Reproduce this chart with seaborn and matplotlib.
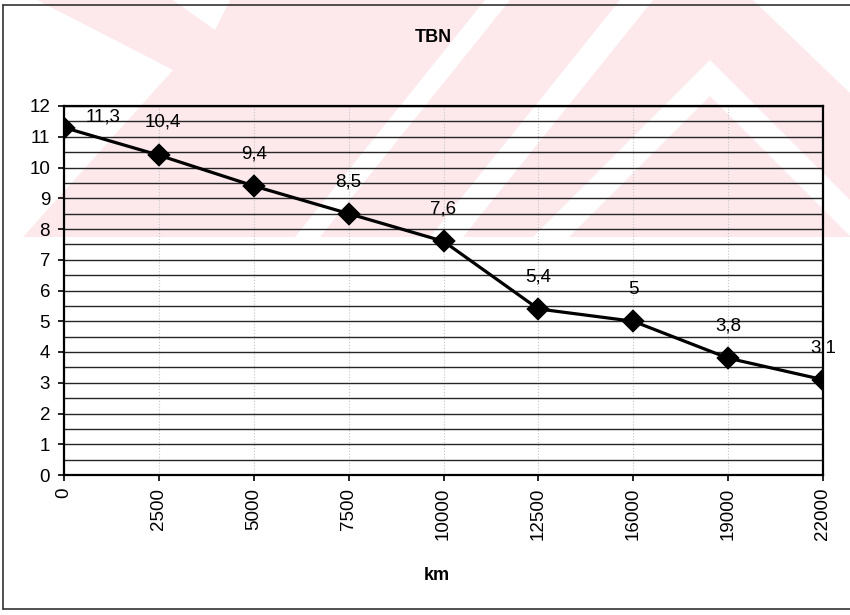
import numpy as np
import pandas as pd
import seaborn as sns
import matplotlib
matplotlib.use("Agg")
import matplotlib.pyplot as plt
from matplotlib.patches import Polygon
from matplotlib.lines import Line2D
from matplotlib.ticker import MultipleLocator

# --- data -----------------------------------------------------------------
km_labels = ["0", "2500", "5000", "7500", "10000", "12500", "16000", "19000", "22000"]
tbn = [11.3, 10.4, 9.4, 8.5, 7.6, 5.4, 5.0, 3.8, 3.1]
value_text = ["11,3", "10,4", "9,4", "8,5", "7,6", "5,4", "5", "3,8", "3,1"]
y_ticks = list(range(0, 13))

df = pd.DataFrame({"km": km_labels, "tbn": tbn})

sns.set_theme(style="white")
plt.rcParams["font.family"] = ["Liberation Sans", "DejaVu Sans"]
plt.rcParams["text.color"] = "black"

W, H = 850, 615
fig = plt.figure(figsize=(W / 100, H / 100), dpi=100)
fig.patch.set_facecolor("white")


def fp(pts):
    """pixel coordinates (origin top-left) -> figure fraction"""
    return [(x / W, 1 - y / H) for x, y in pts]


def patch(pts, color):
    fig.add_artist(Polygon(fp(pts), closed=True, fc=color, ec="none",
                           transform=fig.transFigure, zorder=0))


# pale background emblem in the upper part of the page
pink = "#fde9ec"
patch([(37, 0), (753, 0), (850, 93), (850, 237), (23, 237), (173, 70)], pink)
for c in [
    [(173, 0), (230, 0), (215, 30)],
    [(485, 0), (510, 0), (320, 237), (295, 237)],
    [(620, 0), (653, 0), (463, 237), (430, 237)],
    [(710, 60), (887, 237), (533, 237)],
]:
    patch(c, "white")
patch([(710, 96), (851, 237), (569, 237)], pink)

# chart-area frame
frame_kw = dict(color="#333333", lw=1.2, transform=fig.transFigure, zorder=1)
fig.add_artist(Line2D([3 / W, 1.0], [1 - 5 / H, 1 - 5 / H], **frame_kw))
fig.add_artist(Line2D([3 / W, 3 / W], [1 - 5 / H, 1 - 609 / H], **frame_kw))
fig.add_artist(Line2D([3 / W, 1.0], [1 - 609 / H, 1 - 609 / H], **frame_kw))

# --- plot area ------------------------------------------------------------
left, right, top, bottom = 64, 823, 106, 475
ax = fig.add_axes([left / W, 1 - bottom / H, (right - left) / W, (bottom - top) / H])
ax.set_facecolor("none")
ax.set_zorder(2)

sns.pointplot(data=df, x="km", y="tbn", order=km_labels, color="black",
              marker="D", markersize=10.5, linewidth=2.3, errorbar=None, ax=ax)

ax.set_xlim(0, len(km_labels) - 1)
ax.set_ylim(0, 12)
ax.set_yticks(y_ticks)
ax.yaxis.set_minor_locator(MultipleLocator(0.5))
ax.set_xticks(range(len(km_labels)))
ax.set_xticklabels(km_labels, rotation=90)

ax.yaxis.grid(True, which="both", color="#262626", lw=1.0)
ax.xaxis.grid(True, which="major", color="#c4c4c4", lw=0.8, linestyle=":")
ax.set_axisbelow(True)

ax.tick_params(axis="both", which="major", direction="out", length=4, width=1.2,
               color="black", labelsize=13.5, labelcolor="black")
ax.tick_params(axis="y", which="major", pad=6, left=True)
ax.tick_params(axis="x", which="major", pad=5, bottom=True)
ax.tick_params(axis="y", which="minor", length=0)

for side in ["left", "right", "top", "bottom"]:
    ax.spines[side].set_visible(True)
    ax.spines[side].set_color("black")
    ax.spines[side].set_linewidth(1.6)

ax.set_xlabel("")
ax.set_ylabel("")

# value labels above each point
offsets = [(39, 11), (4, 33)] + [(0, 32)] * (len(tbn) - 2)
for i, (v, t) in enumerate(zip(tbn, value_text)):
    ax.annotate(t, (i, v), xytext=offsets[i], textcoords="offset pixels",
                ha="center", va="center", fontsize=13.5, color="black",
                annotation_clip=False, zorder=5)

fig.text(433 / W, 1 - 37 / H, "TBN", ha="center", va="center",
         fontsize=13, fontweight="bold", color="black")
fig.text(437 / W, 1 - 576 / H, "km", ha="center", va="center",
         fontsize=13, fontweight="bold", color="black")

fig.savefig("out.png", dpi=100, facecolor="white")
